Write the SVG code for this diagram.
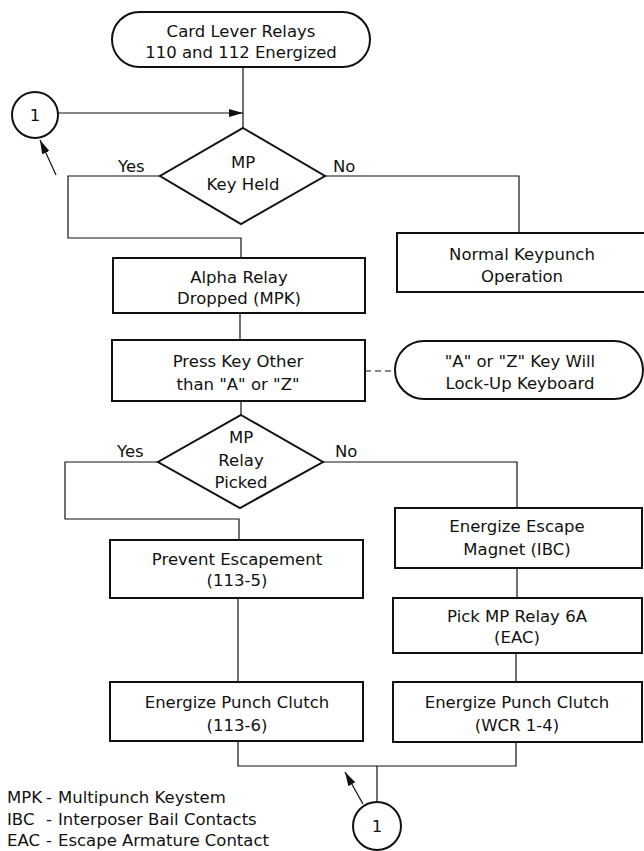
<svg xmlns="http://www.w3.org/2000/svg" width="644" height="851" viewBox="0 0 644 851">
<style>
  .box { fill: #fff; stroke: #111; stroke-width: 2; }
  .ln { fill: none; stroke: #111; stroke-width: 1.2; }
  .dash { fill: none; stroke: #111; stroke-width: 1.2; stroke-dasharray: 6 4; }
  text { font-family: "DejaVu Sans", "Liberation Sans", sans-serif; font-size: 16.5px; fill: #111; }
  .c { text-anchor: middle; }
</style>
<defs>
  <marker id="ah" viewBox="0 0 14 8" refX="14" refY="4" markerWidth="14" markerHeight="8" markerUnits="userSpaceOnUse" orient="auto">
    <path d="M0,0 L14,4 L0,8 Z" fill="#111"/>
  </marker>
</defs>
<rect width="644" height="851" fill="#fff"/>

<g id="connectors">
  <line class="ln" x1="243" y1="67" x2="243" y2="128"/>
  <line class="ln" x1="58" y1="113" x2="243" y2="113" marker-end="url(#ah)"/>
  <line class="ln" x1="56" y1="175" x2="40" y2="140" marker-end="url(#ah)"/>
  <polyline class="ln" points="160,176 68,176 68,238 241,238 241,258"/>
  <polyline class="ln" points="325,176 519,176 519,233"/>
  <line class="ln" x1="240" y1="313" x2="240" y2="340"/>
  <line class="dash" x1="365" y1="371" x2="396" y2="371"/>
  <line class="ln" x1="241" y1="401" x2="241" y2="415"/>
  <polyline class="ln" points="158,462 65,462 65,519 239,519 239,540"/>
  <polyline class="ln" points="323,462 517,462 517,508"/>
  <line class="ln" x1="517" y1="568" x2="517" y2="598"/>
  <line class="ln" x1="238" y1="598" x2="238" y2="682"/>
  <line class="ln" x1="516" y1="653" x2="516" y2="682"/>
  <polyline class="ln" points="238,741 238,766 516,766 516,742"/>
  <line class="ln" x1="377" y1="766" x2="377" y2="802"/>
  <line class="ln" x1="363" y1="804" x2="345" y2="772" marker-end="url(#ah)"/>
</g>

<g id="start">
  <rect class="box" x="112" y="12" width="258" height="55" rx="27.5"/>
  <text class="c" x="241" y="37">Card Lever Relays</text>
  <text class="c" x="241" y="58">110 and 112 Energized</text>
</g>

<g id="connector-top">
  <circle class="box" cx="35" cy="115" r="23" stroke-width="1.6"/>
  <text class="c" x="35" y="121">1</text>
</g>

<g id="decision1">
  <polygon class="box" points="243,128 325,176 241,224 160,176"/>
  <text class="c" x="243" y="168">MP</text>
  <text class="c" x="243" y="190">Key  Held</text>
  <text x="118" y="172">Yes</text>
  <text x="333" y="172">No</text>
</g>

<g id="normal">
  <rect class="box" x="397" y="233" width="253" height="59"/>
  <text class="c" x="522" y="260">Normal Keypunch</text>
  <text class="c" x="522" y="282">Operation</text>
</g>

<g id="alpha">
  <rect class="box" x="113" y="258" width="252" height="55"/>
  <text class="c" x="239" y="283">Alpha Relay</text>
  <text class="c" x="239" y="304">Dropped (MPK)</text>
</g>

<g id="press">
  <rect class="box" x="112" y="340" width="253" height="61"/>
  <text class="c" x="238" y="367">Press Key Other</text>
  <text class="c" x="238" y="390">than "A" or "Z"</text>
</g>

<g id="lockup">
  <rect class="box" x="395" y="341" width="248" height="58" rx="29"/>
  <text class="c" x="520" y="367">"A" or "Z" Key Will</text>
  <text class="c" x="520" y="389">Lock-Up Keyboard</text>
</g>

<g id="decision2">
  <polygon class="box" points="241,415 323,462 240,508 158,462"/>
  <text class="c" x="241" y="443">MP</text>
  <text class="c" x="241" y="466">Relay</text>
  <text class="c" x="241" y="488">Picked</text>
  <text x="117" y="457">Yes</text>
  <text x="335" y="457">No</text>
</g>

<g id="prevent">
  <rect class="box" x="110" y="540" width="253" height="58"/>
  <text class="c" x="237" y="565">Prevent Escapement</text>
  <text class="c" x="237" y="586">(113-5)</text>
</g>

<g id="escape">
  <rect class="box" x="395" y="508" width="247" height="60"/>
  <text class="c" x="517" y="532">Energize Escape</text>
  <text class="c" x="517" y="555">Magnet (IBC)</text>
</g>

<g id="pick">
  <rect class="box" x="393" y="598" width="249" height="55"/>
  <text class="c" x="517" y="622">Pick MP Relay 6A</text>
  <text class="c" x="517" y="643">(EAC)</text>
</g>

<g id="clutch-left">
  <rect class="box" x="110" y="682" width="253" height="59"/>
  <text class="c" x="237" y="708">Energize Punch Clutch</text>
  <text class="c" x="237" y="731">(113-6)</text>
</g>

<g id="clutch-right">
  <rect class="box" x="393" y="682" width="249" height="60"/>
  <text class="c" x="517" y="708">Energize Punch Clutch</text>
  <text class="c" x="517" y="731">(WCR 1-4)</text>
</g>

<g id="connector-bottom">
  <circle class="box" cx="377" cy="826" r="24" stroke-width="1.6"/>
  <text class="c" x="377" y="832">1</text>
</g>

<g id="legend">
  <text x="7" y="803"><tspan x="7">MPK</tspan><tspan x="46">-</tspan><tspan x="58">Multipunch Keystem</tspan></text>
  <text x="7" y="825"><tspan x="7">IBC</tspan><tspan x="46">-</tspan><tspan x="58">Interposer Bail Contacts</tspan></text>
  <text x="7" y="846"><tspan x="7">EAC</tspan><tspan x="46">-</tspan><tspan x="58">Escape Armature Contact</tspan></text>
</g>
</svg>
